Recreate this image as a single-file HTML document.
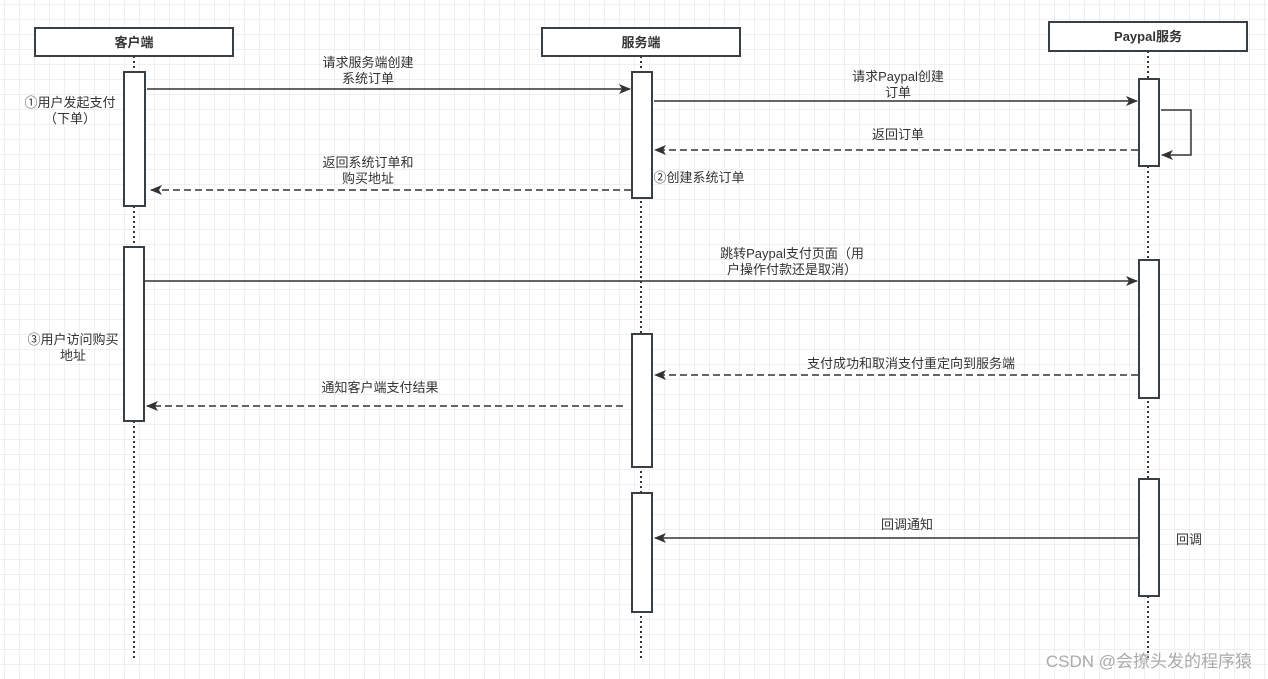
<!DOCTYPE html>
<html><head><meta charset="utf-8"><style>
body{margin:0;background:#fff}
svg{display:block}
text{font-family:"Liberation Sans","Noto Sans CJK SC",sans-serif;font-size:13px;fill:#333}
</style></head><body>
<svg width="1268" height="679" xmlns="http://www.w3.org/2000/svg">
<defs>
<pattern id="g" width="15" height="15" patternUnits="userSpaceOnUse" x="5" y="5">
<path d="M15 0V15M0 15H15" fill="none" stroke="#e2e2e2" stroke-width="1"/>
</pattern>
<marker id="a" markerWidth="12" markerHeight="10" refX="11" refY="5" orient="auto" markerUnits="userSpaceOnUse">
<path d="M0 0L12 5L0 10L3 5Z" fill="#333"/></marker>
</defs>
<rect width="1268" height="679" fill="url(#g)"/>
<g stroke="#333" stroke-width="2" stroke-dasharray="2,3">
<line x1="134" y1="56" x2="134" y2="660"/>
<line x1="641" y1="56" x2="641" y2="660"/>
<line x1="1148" y1="51" x2="1148" y2="660"/>
</g>
<g fill="#fff" stroke="#3a3f44" stroke-width="2">
<rect x="35" y="28" width="198" height="28"/>
<rect x="542" y="28" width="198" height="28"/>
<rect x="1049" y="22" width="198" height="29"/>
<rect x="124" y="72" width="21" height="134"/>
<rect x="124" y="247" width="20" height="174"/>
<rect x="632" y="72" width="20" height="126"/>
<rect x="632" y="334" width="20" height="133"/>
<rect x="632" y="493" width="20" height="119"/>
<rect x="1139" y="79" width="20" height="87"/>
<rect x="1139" y="260" width="20" height="138"/>
<rect x="1139" y="479" width="20" height="117"/>
</g>
<g text-anchor="middle">
<text x="134" y="47" style="font-weight:bold">客户端</text>
<text x="641" y="47" style="font-weight:bold">服务端</text>
<text x="1148" y="41" style="font-weight:bold">Paypal服务</text>
</g>
<g stroke="#333" stroke-width="1.5" fill="none">
<line x1="147" y1="89" x2="630" y2="89" marker-end="url(#a)"/>
<line x1="654" y1="101" x2="1137" y2="101" marker-end="url(#a)"/>
<polyline points="1161,110 1191,110 1191,155 1162,155" marker-end="url(#a)"/>
<line x1="1138" y1="150" x2="655" y2="150" stroke-dasharray="7,4" marker-end="url(#a)"/>
<line x1="631" y1="190" x2="151" y2="190" stroke-dasharray="7,4" marker-end="url(#a)"/>
<line x1="145" y1="281" x2="1137" y2="281" marker-end="url(#a)"/>
<line x1="1138" y1="375" x2="655" y2="375" stroke-dasharray="7,4" marker-end="url(#a)"/>
<line x1="623" y1="406" x2="147" y2="406" stroke-dasharray="7,4" marker-end="url(#a)"/>
<line x1="1138" y1="538" x2="655" y2="538" marker-end="url(#a)"/>
</g>
<g text-anchor="middle">
<text x="368" y="67">请求服务端创建</text><text x="368" y="83">系统订单</text>
<text x="898" y="81">请求Paypal创建</text><text x="898" y="97">订单</text>
<text x="898" y="139">返回订单</text>
<text x="368" y="167">返回系统订单和</text><text x="368" y="183">购买地址</text>
<text x="70" y="107">①用户发起支付</text><text x="70" y="123">（下单）</text>
<text x="699" y="182">②创建系统订单</text>
<text x="792" y="258">跳转Paypal支付页面（用</text><text x="792" y="274">户操作付款还是取消）</text>
<text x="73" y="344">③用户访问购买</text><text x="73" y="360">地址</text>
<text x="911" y="368">支付成功和取消支付重定向到服务端</text>
<text x="380" y="392">通知客户端支付结果</text>
<text x="907" y="529">回调通知</text>
<text x="1189" y="544">回调</text>
</g>
<text x="1252" y="667" text-anchor="end" style="font-size:17px;fill:#aaa">CSDN @会撩头发的程序猿</text>
</svg>
</body></html>
